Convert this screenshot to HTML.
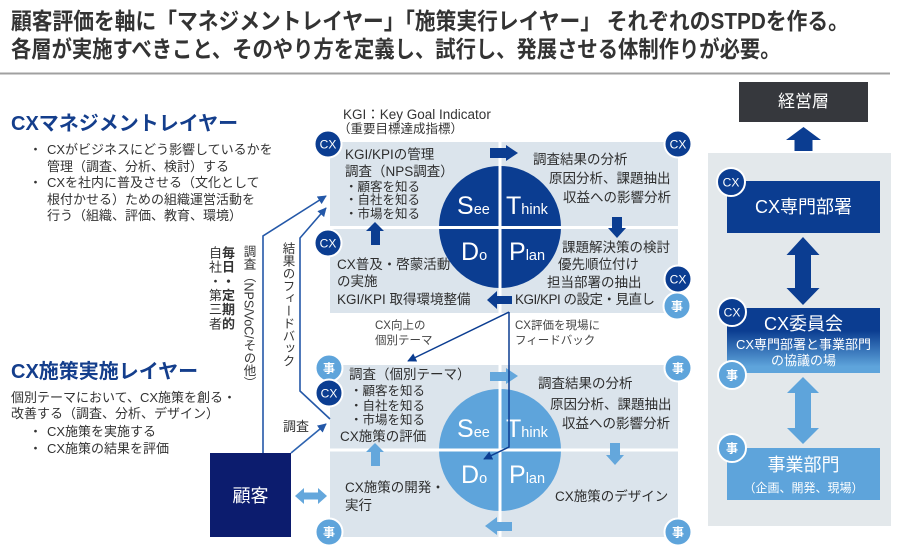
<!DOCTYPE html>
<html><head><meta charset="utf-8">
<style>
body{margin:0;width:900px;height:560px;position:relative;background:#fff;overflow:hidden;font-family:"Liberation Sans","Noto Sans CJK JP",sans-serif;}
.t{position:absolute;white-space:nowrap;line-height:1;color:#333;}
.p{font-size:13.5px;color:#2e2e2e;}
.s{font-size:12.5px;color:#2e2e2e;}
.m{font-size:11.5px;color:#444;}
.v{position:absolute;writing-mode:vertical-rl;white-space:nowrap;line-height:1;color:#333;}
.c{position:absolute;white-space:nowrap;line-height:1;color:#fff;text-align:center;}
.h{font-size:20px;font-weight:bold;color:#143e8c;}
.b{font-size:13px;color:#333;}
</style></head><body>
<svg width="900" height="560" style="position:absolute;left:0;top:0" xmlns="http://www.w3.org/2000/svg">
<defs>
<marker id="ah" viewBox="0 0 10 10" refX="9" refY="5" markerWidth="9" markerHeight="9" markerUnits="userSpaceOnUse" orient="auto"><path d="M0,0 L10,5 L0,10 z" fill="#2458a8"/></marker>
<marker id="ad" viewBox="0 0 10 10" refX="9" refY="5" markerWidth="9" markerHeight="9" markerUnits="userSpaceOnUse" orient="auto"><path d="M0,0 L10,5 L0,10 z" fill="#0b3d91"/></marker>
<linearGradient id="g1" x1="0" y1="0" x2="0" y2="1"><stop offset="0" stop-color="#0b3d91"/><stop offset="0.35" stop-color="#0b3d91"/><stop offset="0.9" stop-color="#5ea4db"/><stop offset="1" stop-color="#5ea4db"/></linearGradient>
</defs>
<line x1="0" y1="73.5" x2="890" y2="73.5" stroke="#a0a0a0" stroke-width="2"/>

<!-- top panel -->
<rect x="330" y="142" width="348" height="171" fill="#dbe4ec"/>
<circle cx="500" cy="227" r="61" fill="#0b3d91"/>
<rect x="498.5" y="142" width="3" height="171" fill="#fff"/>
<rect x="330" y="226" width="348" height="3" fill="#fff"/>
<text x="457" y="214" fill="#fff" font-family="Liberation Sans"><tspan font-size="25">S</tspan><tspan font-size="14.5">ee</tspan></text>
<text x="506" y="214" fill="#fff" font-family="Liberation Sans"><tspan font-size="25">T</tspan><tspan font-size="14.5">hink</tspan></text>
<text x="461" y="260" fill="#fff" font-family="Liberation Sans"><tspan font-size="25">D</tspan><tspan font-size="14.5">o</tspan></text>
<text x="509" y="260" fill="#fff" font-family="Liberation Sans"><tspan font-size="25">P</tspan><tspan font-size="14.5">lan</tspan></text>
<polygon points="490,148 506,148 506,145 518,153 506,161 506,158 490,158" fill="#0b3d91"/>
<polygon points="612,217 622,217 622,228 626,228 617,238 608,228 612,228" fill="#0b3d91"/>
<polygon points="512,296 497,296 497,291 487,300 497,309 497,304 512,304" fill="#0b3d91"/>
<polygon points="375,222 384,231 380,231 380,245 371,245 371,231 366,231" fill="#0b3d91"/>

<!-- bottom panel -->
<rect x="330" y="365" width="348" height="172" fill="#dbe4ec"/>
<circle cx="500" cy="450" r="61" fill="#5ea4db"/>
<rect x="498.5" y="365" width="3" height="172" fill="#fff"/>
<rect x="330" y="448.5" width="348" height="3" fill="#fff"/>
<text x="457" y="437" fill="#fff" font-family="Liberation Sans"><tspan font-size="25">S</tspan><tspan font-size="14.5">ee</tspan></text>
<text x="506" y="437" fill="#fff" font-family="Liberation Sans"><tspan font-size="25">T</tspan><tspan font-size="14.5">hink</tspan></text>
<text x="461" y="483" fill="#fff" font-family="Liberation Sans"><tspan font-size="25">D</tspan><tspan font-size="14.5">o</tspan></text>
<text x="509" y="483" fill="#fff" font-family="Liberation Sans"><tspan font-size="25">P</tspan><tspan font-size="14.5">lan</tspan></text>
<polygon points="490,372 506,372 506,368 518,376 506,384 506,381 490,381" fill="#64a7dc"/>
<polygon points="610,443 620,443 620,455 624,455 615,465 606,455 610,455" fill="#64a7dc"/>
<polygon points="512,522 497,522 497,517 485,526 497,535 497,531 512,531" fill="#64a7dc"/>
<polygon points="375,443 384,452 380,452 380,466 371,466 371,452 366,452" fill="#64a7dc"/>

<!-- customer box -->
<rect x="210" y="453" width="81" height="84" fill="#0c1c6e"/>
<polygon points="295,496 304,488 304,492.5 318,492.5 318,488 327,496 318,504 318,499.5 304,499.5 304,504" fill="#64a7dc"/>

<!-- connectors -->
<polyline points="263,453 263,236 326,196" fill="none" stroke="#2458a8" stroke-width="1.6" marker-end="url(#ah)"/>
<polyline points="330,419 300,391 300,238 326,208" fill="none" stroke="#2458a8" stroke-width="1.6" marker-end="url(#ah)"/>
<line x1="291" y1="453" x2="326" y2="424" stroke="#2d63b0" stroke-width="1.6" marker-end="url(#ah)"/>
<line x1="509" y1="312" x2="408" y2="361" stroke="#0b3d91" stroke-width="1.5" marker-end="url(#ad)"/>
<polyline points="509,312 509,447 484,459" fill="none" stroke="#0b3d91" stroke-width="1.5" marker-end="url(#ad)"/>

<!-- right column -->
<rect x="708" y="153" width="183" height="373" fill="#e3e8eb"/>
<rect x="739" y="82" width="129" height="40" fill="#36383d"/>
<polygon points="803.5,127 821,140 812.5,140 812.5,151 794.5,151 794.5,140 786,140" fill="#0b3d91"/>
<rect x="727" y="181" width="153" height="52" fill="#0b3d91"/>
<polygon points="803,237 819.5,255 811,255 811,288 819.5,288 803,305 786.5,288 795,288 795,255 786.5,255" fill="#0b3d91"/>
<rect x="727" y="308" width="153" height="65" fill="url(#g1)"/>
<polygon points="803,377 819,393 811,393 811,428 819,428 803,444 787,428 795,428 795,393 787,393" fill="#5ea4db"/>
<rect x="727" y="448" width="153" height="52" fill="#5ea4db"/>

<!-- badges -->
<g font-family="Liberation Sans, Noto Sans CJK JP, sans-serif" font-size="12" fill="#fff" text-anchor="middle">
<g><circle cx="328" cy="144" r="13.5" fill="#0b3d91" stroke="#fff" stroke-width="2"/><text x="328" y="148.5">CX</text></g>
<g><circle cx="328" cy="243" r="13.5" fill="#0b3d91" stroke="#fff" stroke-width="2"/><text x="328" y="247.5">CX</text></g>
<g><circle cx="678" cy="144" r="13.5" fill="#0b3d91" stroke="#fff" stroke-width="2"/><text x="678" y="148.5">CX</text></g>
<g><circle cx="678" cy="279" r="13.5" fill="#0b3d91" stroke="#fff" stroke-width="2"/><text x="678" y="283.5">CX</text></g>
<g><circle cx="677" cy="306" r="13.5" fill="#5ea4db" stroke="#fff" stroke-width="2"/><text x="677" y="310.5" font-weight="bold">事</text></g>
<g><circle cx="329" cy="368" r="13.5" fill="#5ea4db" stroke="#fff" stroke-width="2"/><text x="329" y="372.5" font-weight="bold">事</text></g>
<g><circle cx="329" cy="393" r="13.5" fill="#0b3d91" stroke="#fff" stroke-width="2"/><text x="329" y="397.5">CX</text></g>
<g><circle cx="678" cy="368" r="13.5" fill="#5ea4db" stroke="#fff" stroke-width="2"/><text x="678" y="372.5" font-weight="bold">事</text></g>
<g><circle cx="329" cy="532" r="13.5" fill="#5ea4db" stroke="#fff" stroke-width="2"/><text x="329" y="536.5" font-weight="bold">事</text></g>
<g><circle cx="678" cy="532" r="13.5" fill="#5ea4db" stroke="#fff" stroke-width="2"/><text x="678" y="536.5" font-weight="bold">事</text></g>
<g><circle cx="731" cy="182" r="14" fill="#0b3d91" stroke="#fff" stroke-width="2"/><text x="731" y="186.5">CX</text></g>
<g><circle cx="732" cy="312" r="14" fill="#0b3d91" stroke="#fff" stroke-width="2"/><text x="732" y="316.5">CX</text></g>
<g><circle cx="732" cy="375" r="14" fill="#5ea4db" stroke="#fff" stroke-width="2"/><text x="732" y="379.5" font-weight="bold">事</text></g>
<g><circle cx="732" cy="448" r="14" fill="#5ea4db" stroke="#fff" stroke-width="2"/><text x="732" y="452.5" font-weight="bold">事</text></g>
</g>
</svg>

<!-- title -->
<div class="t" style="left:11px;top:10px;font-size:23px;font-weight:bold;color:#333;transform:scaleX(0.902);transform-origin:0 0;">顧客評価を軸に「マネジメントレイヤー」「施策実行レイヤー」 それぞれのSTPDを作る。</div>
<div class="t" style="left:11px;top:38px;font-size:23px;font-weight:bold;color:#333;transform:scaleX(0.883);transform-origin:0 0;">各層が実施すべきこと、そのやり方を定義し、試行し、発展させる体制作りが必要。</div>

<!-- left management layer -->
<div class="t h" style="left:11px;top:114px;">CXマネジメントレイヤー</div>
<div class="t b" style="left:29px;top:143px;">・</div>
<div class="t b" style="left:47px;top:143px;">CXがビジネスにどう影響しているかを</div>
<div class="t b" style="left:47px;top:160px;">管理（調査、分析、検討）する</div>
<div class="t b" style="left:29px;top:176px;">・</div>
<div class="t b" style="left:47px;top:176px;">CXを社内に普及させる（文化として</div>
<div class="t b" style="left:47px;top:193px;">根付かせる）ための組織運営活動を</div>
<div class="t b" style="left:47px;top:209px;">行う（組織、評価、教育、環境）</div>

<!-- left implementation layer -->
<div class="t h" style="left:11px;top:362px;">CX施策実施レイヤー</div>
<div class="t b" style="left:11px;top:391px;">個別テーマにおいて、CX施策を創る・</div>
<div class="t b" style="left:11px;top:407px;">改善する（調査、分析、デザイン）</div>
<div class="t b" style="left:29px;top:425px;">・</div>
<div class="t b" style="left:47px;top:425px;">CX施策を実施する</div>
<div class="t b" style="left:29px;top:442px;">・</div>
<div class="t b" style="left:47px;top:442px;">CX施策の結果を評価</div>

<!-- vertical labels -->
<div class="v" style="left:242px;top:245px;font-size:12.5px;">調査（NPS/VoC/その他）</div>
<div class="v" style="left:221px;top:246px;font-size:13px;letter-spacing:1.2px;font-weight:bold;">毎日・定期的</div>
<div class="v" style="left:208px;top:246px;font-size:13px;letter-spacing:1.2px;">自社・第三者</div>
<div class="v" style="left:281px;top:242px;font-size:12.5px;">結果のフィードバック</div>
<div class="t" style="left:283px;top:420px;font-size:13px;">調査</div>

<!-- top panel text -->
<div class="t" style="left:343px;top:108px;font-size:13.5px;">KGI：Key Goal Indicator</div>
<div class="t" style="left:338px;top:123px;font-size:12.5px;">（重要目標達成指標）</div>
<div class="t p" style="left:345px;top:148px;">KGI/KPIの管理</div>
<div class="t p" style="left:345px;top:165px;">調査（NPS調査）</div>
<div class="t s" style="left:345px;top:181px;">・顧客を知る</div>
<div class="t s" style="left:345px;top:194px;">・自社を知る</div>
<div class="t s" style="left:345px;top:208px;">・市場を知る</div>
<div class="t p" style="left:337px;top:258px;">CX普及・啓蒙活動</div>
<div class="t p" style="left:337px;top:275px;">の実施</div>
<div class="t p" style="left:337px;top:293px;">KGI/KPI 取得環境整備</div>
<div class="t p" style="left:515px;top:293px;letter-spacing:-0.5px;">KGI/KPI の設定・見直し</div>
<div class="t p" style="left:562px;top:241px;">課題解決策の検討</div>
<div class="t p" style="left:558px;top:258px;">優先順位付け</div>
<div class="t p" style="left:547px;top:276px;">担当部署の抽出</div>
<div class="t p" style="left:533px;top:153px;">調査結果の分析</div>
<div class="t p" style="left:549px;top:172px;">原因分析、課題抽出</div>
<div class="t p" style="left:563px;top:191px;">収益への影響分析</div>

<!-- middle labels -->
<div class="t m" style="left:375px;top:321px;">CX向上の</div>
<div class="t m" style="left:375px;top:336px;">個別テーマ</div>
<div class="t m" style="left:515px;top:321px;">CX評価を現場に</div>
<div class="t m" style="left:515px;top:336px;">フィードバック</div>

<!-- bottom panel text -->
<div class="t p" style="left:349px;top:368px;">調査（個別テーマ）</div>
<div class="t s" style="left:350px;top:385px;">・顧客を知る</div>
<div class="t s" style="left:350px;top:400px;">・自社を知る</div>
<div class="t s" style="left:350px;top:414px;">・市場を知る</div>
<div class="t p" style="left:340px;top:430px;">CX施策の評価</div>
<div class="t p" style="left:345px;top:481px;">CX施策の開発・</div>
<div class="t p" style="left:345px;top:499px;">実行</div>
<div class="t p" style="left:538px;top:377px;">調査結果の分析</div>
<div class="t p" style="left:550px;top:398px;">原因分析、課題抽出</div>
<div class="t p" style="left:562px;top:417px;">収益への影響分析</div>
<div class="t p" style="left:555px;top:490px;">CX施策のデザイン</div>

<!-- customer -->
<div class="c" style="left:210px;width:81px;top:487px;font-size:18px;">顧客</div>

<!-- right column text -->
<div class="c" style="left:739px;width:129px;top:93px;font-size:17px;">経営層</div>
<div class="c" style="left:727px;width:153px;top:198px;font-size:18px;">CX専門部署</div>
<div class="c" style="left:727px;width:153px;top:315px;font-size:18px;">CX委員会</div>
<div class="c" style="left:727px;width:153px;top:338px;font-size:13px;">CX専門部署と事業部門</div>
<div class="c" style="left:727px;width:153px;top:354px;font-size:13px;">の協議の場</div>
<div class="c" style="left:727px;width:153px;top:456px;font-size:18px;">事業部門</div>
<div class="c" style="left:727px;width:153px;top:482px;font-size:12px;">（企画、開発、現場）</div>
</body></html>
